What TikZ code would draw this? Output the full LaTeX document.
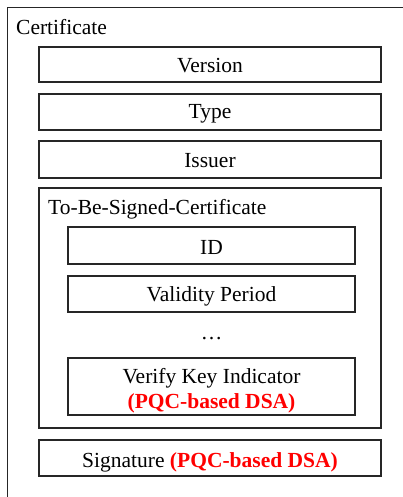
\documentclass[tikz,border=0pt]{standalone}
\usepackage{fontspec}
\setmainfont{Liberation Serif}
\begin{document}
\begin{tikzpicture}[x=1pt,y=-1pt,
  box/.style={draw=black!85, line width=1.2pt},
  lbl/.style={font=\fontsize{21.5}{25}\selectfont, inner sep=0pt},
  pqc/.style={text=red, font=\fontsize{21.5}{25}\selectfont\bfseries}]
\useasboundingbox (0,0) rectangle (402,497);
\draw[box, line width=1pt] (7,8) -- (420,8) (7,8) -- (7,520);
\node[lbl, anchor=west] (cert) at (16,27) {Certificate};
\draw[box] (39,47) rectangle (381,82);
\node[lbl] (ver) at (210,66) {Version};
\draw[box] (39,94) rectangle (381,130);
\node[lbl] (type) at (210,114) {Type};
\draw[box] (39,141) rectangle (381,178);
\node[lbl] (iss) at (210,161) {Issuer};
\draw[box] (39,188) rectangle (381,428);
\node[lbl, anchor=west] (tbs) at (48,209) {To-Be-Signed-Certificate};
\draw[box] (68,227) rectangle (355,264);
\node[lbl] (id) at (211.5,247) {ID};
\draw[box] (68,276) rectangle (355,312);
\node[lbl] (val) at (211.5,296) {Validity Period};
\node[lbl] (dots) at (211.5,339) {\dots};
\draw[box] (68,358) rectangle (355,415);
\node[lbl] (vk) at (211.5,378) {Verify Key Indicator};
\node[lbl, pqc] (vkp) at (211.5,403) {(PQC-based DSA)};
\draw[box] (39,440) rectangle (381,476);
\node[lbl] (sig) at (210,462) {Signature \textcolor{red}{\bfseries(PQC-based DSA)}};
\end{tikzpicture}
\end{document}
